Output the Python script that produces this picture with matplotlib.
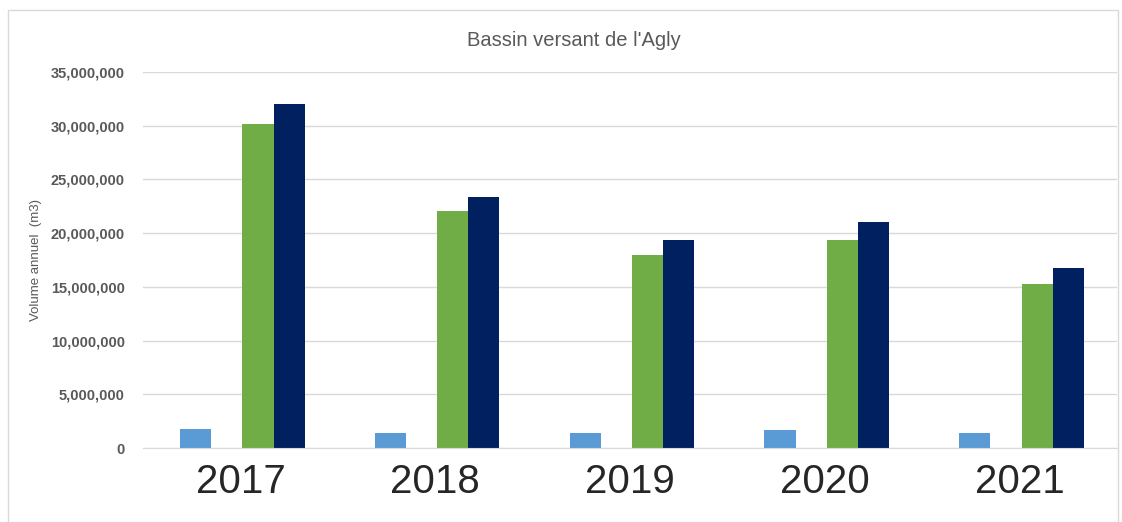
import matplotlib.pyplot as plt
import matplotlib.ticker as mticker
from matplotlib.patches import Rectangle
import numpy as np

# Annual volumes (m3), Agly basin
years = ["2017", "2018", "2019", "2020", "2021"]
serie_bleue = [1800000, 1350000, 1350000, 1650000, 1400000]
serie_orange = [30000, 30000, 30000, 30000, 30000]
serie_verte = [30200000, 22050000, 17950000, 19400000, 15300000]
serie_marine = [32000000, 23350000, 19400000, 21000000, 16800000]

colors = ["#5B9BD5", "#ED7D31", "#70AD47", "#002060"]
series = [serie_bleue, serie_orange, serie_verte, serie_marine]

plt.rcParams['font.family'] = ['Liberation Sans', 'DejaVu Sans']

fig = plt.figure(figsize=(11.22, 5.22), dpi=100)
ax = fig.add_axes([143 / 1122, 1 - 448 / 522, (1117 - 143) / 1122, (448 - 72) / 522])

x = np.arange(len(years))
w = 0.16
for i, (vals, c) in enumerate(zip(series, colors)):
    ax.bar(x + (i - 1.5) * w + 0.01, vals, width=w, color=c, zorder=3)

ax.set_xlim(-0.5, len(years) - 0.5)
ax.set_ylim(0, 35000000)
ax.yaxis.set_major_locator(mticker.MultipleLocator(5000000))
ax.yaxis.set_major_formatter(mticker.FuncFormatter(lambda v, p: f"{int(v):,}"))
ax.grid(axis='y', color='#D9D9D9', linewidth=1, zorder=0)
ax.set_xticks(x)
ax.set_xticklabels(years, fontsize=29, color='#262626')
ax.tick_params(axis='x', length=0, pad=11)
ax.tick_params(axis='y', length=0, pad=13, labelsize=10.5, labelcolor='#595959')
for lbl in ax.get_yticklabels():
    lbl.set_fontweight('bold')
for s in ['top', 'right', 'left']:
    ax.spines[s].set_visible(False)
ax.spines['bottom'].set_color('#D9D9D9')
ax.spines['bottom'].set_zorder(4)

ax.set_ylabel("Volume annuel  (m3)", fontsize=9.5, color='#595959', labelpad=6)
fig.text(574 / 1122, 1 - 40 / 522, "Bassin versant de l'Agly",
         ha='center', va='center', fontsize=14.5, color='#595959')

fig.patches.append(Rectangle((8 / 1122, -0.05), (1118 - 8) / 1122, 1.05 - 10 / 522,
                             transform=fig.transFigure, fill=False,
                             edgecolor='#D9D9D9', linewidth=1))

fig.savefig("out.png", dpi=100)
